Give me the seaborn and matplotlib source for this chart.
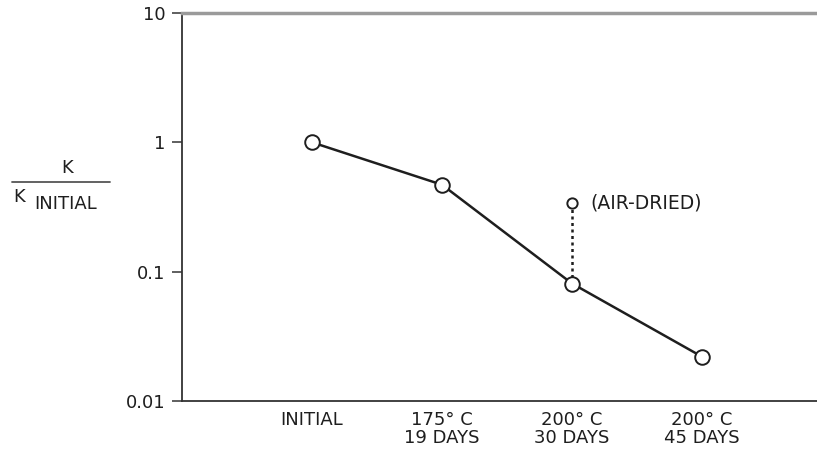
import matplotlib
matplotlib.use("Agg")
import matplotlib.pyplot as plt
import seaborn as sns
import pandas as pd

sns.set_style("white")
plt.rcParams["font.family"] = ["DejaVu Sans"]

# Permeability ratio after each heat treatment
conditions = ["INITIAL", "175° C\n19 DAYS", "200° C\n30 DAYS", "200° C\n45 DAYS"]
k_ratio = [1.0, 0.47, 0.081, 0.022]

# Air-dried measurement after the 30-day treatment
air_dried_condition = 2
air_dried_ratio = 0.34
air_dried_label = "(AIR-DRIED)"

y_ticks = [0.01, 0.1, 1, 10]
y_tick_labels = ["0.01", "0.1", "1", "10"]

df = pd.DataFrame({"pos": range(1, len(conditions) + 1), "ratio": k_ratio})

fig = plt.figure(figsize=(8.17, 4.54), dpi=100)
ax = fig.add_axes([182 / 817, 1 - 401 / 454, 1 - 182 / 817, (401 - 13) / 454])

ink = "#1e1e1e"

# dotted link from the 30-day point up to the air-dried value
link = pd.DataFrame({"pos": [air_dried_condition + 1] * 2,
                     "ratio": [k_ratio[air_dried_condition], air_dried_ratio]})
sns.lineplot(data=link, x="pos", y="ratio", ax=ax, color=ink,
             estimator=None, sort=False,
             linestyle=(0, (1.2, 1.4)), linewidth=1.8, zorder=2)
sns.scatterplot(x=[air_dried_condition + 1], y=[air_dried_ratio], ax=ax,
                marker="o", s=55, facecolor="white", edgecolor=ink,
                linewidth=1.4, zorder=4)
ax.text(air_dried_condition + 1 + 0.14, air_dried_ratio, air_dried_label,
        fontsize=13.5, va="center", ha="left", color=ink)

sns.lineplot(data=df, x="pos", y="ratio", ax=ax, color=ink,
             linewidth=1.8, marker="o", markersize=10.5,
             markerfacecolor="white", markeredgecolor=ink,
             markeredgewidth=1.4, zorder=3)

ax.set_yscale("log")
ax.set_ylim(0.01, 10)
ax.set_xlim(0, (817 - 182) / 130)
ax.set_yticks(y_ticks)
ax.set_yticklabels(y_tick_labels, fontsize=13, color=ink)
ax.minorticks_off()
ax.set_xticks(df["pos"])
ax.set_xticklabels(conditions, fontsize=13, color=ink, linespacing=1.0)
ax.tick_params(axis="y", direction="out", length=7, width=1.2, color="#444444",
               left=True, pad=5)
ax.tick_params(axis="x", length=0, pad=7)
ax.set_xlabel("")
ax.set_ylabel("")

for side in ["left", "bottom"]:
    ax.spines[side].set_color("#333333")
    ax.spines[side].set_linewidth(1.3)
ax.spines["top"].set_color("#9a9a9a")
ax.spines["top"].set_linewidth(2.5)
ax.spines["right"].set_visible(False)

# y-axis label drawn as a fraction K / K_INITIAL
fig.text(67 / 817, 1 - 168 / 454, "K", fontsize=13, ha="center", va="center",
         color=ink)
fig.add_artist(plt.Line2D([12 / 817, 110 / 817], [1 - 182 / 454] * 2,
                          color="#555555", linewidth=1.3))
fig.text(13 / 817, 1 - 197 / 454, "K", fontsize=13, ha="left", va="center",
         color=ink)
fig.text(34 / 817, 1 - 204 / 454, "INITIAL", fontsize=13, ha="left",
         va="center", color=ink)

fig.savefig("out.png", dpi=100)
